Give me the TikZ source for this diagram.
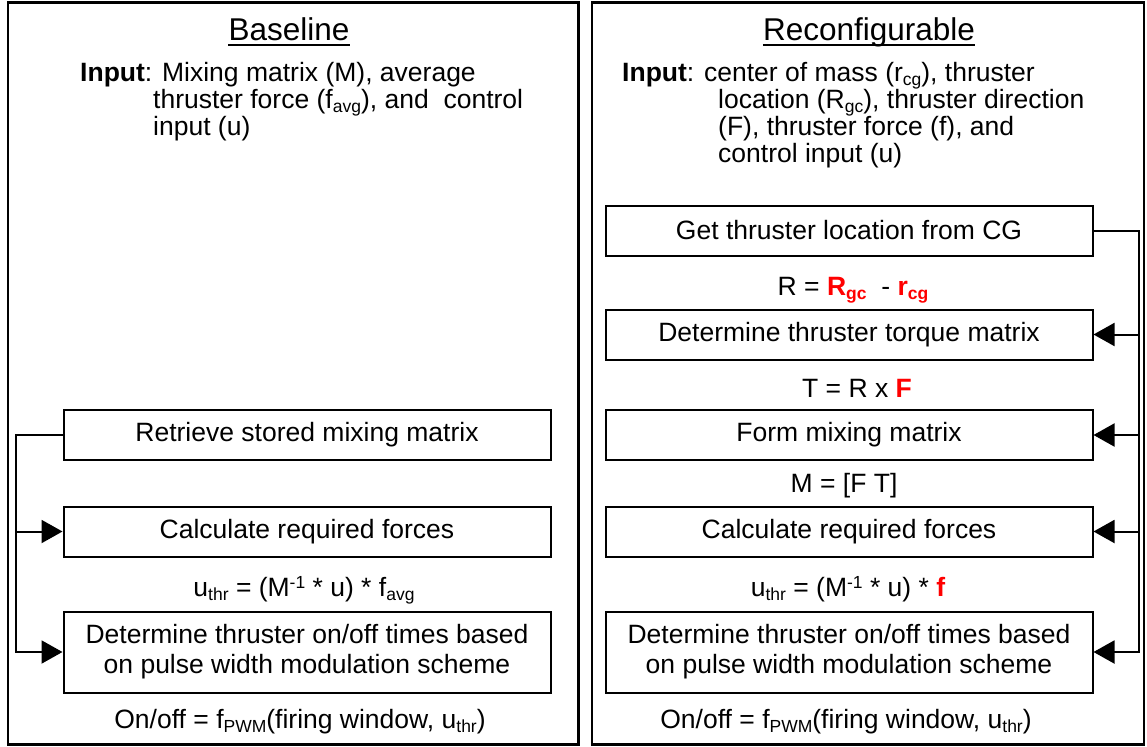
\documentclass[tikz,border=0pt]{standalone}
\usepackage{fontspec}
\setmainfont{Liberation Sans}
\usetikzlibrary{arrows.meta}
% small lowered / raised text for indices and exponents
\newcommand{\lo}[1]{\raisebox{-4pt}{\fontsize{17.5}{18}\selectfont #1}}
\newcommand{\hi}[1]{\raisebox{8pt}{\fontsize{17.5}{18}\selectfont #1}}
\begin{document}
\begin{tikzpicture}[x=1pt,y=-1pt,
  panel/.style={draw, line width=2.5pt},
  stepbox/.style={draw, line width=2pt, minimum width=487pt, minimum height=50pt,
    align=center, inner sep=0pt, font=\fontsize{26.5}{30}\selectfont},
  txt/.style={inner sep=0pt, font=\fontsize{26.5}{30}\selectfont},
  ttl/.style={inner sep=0pt, font=\fontsize{31.5}{36}\selectfont},
  uline/.style={line width=2pt},
  conn/.style={line width=2pt},
  tip/.style={-{Triangle[length=21pt 0 0,width=23pt 0 0]}}
]
\useasboundingbox (0,0) rectangle (1147,746);

% two frames
\draw[panel] (8,2.5) rectangle (578.5,744.5);
\draw[panel] (592,2.5) rectangle (1144,744.5);

% titles, underlined
\node[ttl, anchor=base] (ltitle) at (289,41) {Baseline};
\node[ttl, anchor=base] (rtitle) at (869,41) {Reconfigurable};
\draw[uline] ([yshift=-4pt]ltitle.base west) -- ([yshift=-4pt]ltitle.base east);
\draw[uline] ([yshift=-4pt]rtitle.base west) -- ([yshift=-4pt]rtitle.base east);

% inputs, left
\node[txt, anchor=base west] (lin1) at (80,81.5) {\textbf{Input}: Mixing matrix (M), average};
\node[txt, anchor=base west] (lin2) at (153,108.5) {thruster force (f\lo{avg}), and~ control};
\node[txt, anchor=base west] (lin3) at (153,135.5) {input (u)};

% inputs, right
\node[txt, anchor=base west] (rin1) at (622,81.5) {\textbf{Input}: center of mass (r\lo{cg}), thruster};
\node[txt, anchor=base west] (rin2) at (718,108.5) {location (R\lo{gc}), thruster direction};
\node[txt, anchor=base west] (rin3) at (718,135.5) {(F), thruster force (f), and};
\node[txt, anchor=base west] (rin4) at (718,162.5) {control input (u)};

% baseline steps
\node[stepbox] (lret) at (307,435) {Retrieve stored mixing matrix};
\node[stepbox] (lcalc) at (307,531.5) {Calculate required forces};
\node[stepbox, minimum height=81pt] (ldet) at (307,652)
  {Determine thruster on/off times based\\on pulse width modulation scheme};
\node[txt, anchor=base] (leq1) at (304,596.5) {u\lo{thr} = (M\hi{-1} * u) * f\lo{avg}};
\node[txt, anchor=base] (leq2) at (300,728.5) {On/off = f\lo{PWM}(firing window, u\lo{thr})};

% reconfigurable steps
\node[stepbox] (rget) at (849,230.5) {Get thruster location from CG};
\node[stepbox] (rtrq) at (849,334.5) {Determine thruster torque matrix};
\node[stepbox] (rmix) at (849,435) {Form mixing matrix};
\node[stepbox] (rcalc) at (849,531.5) {Calculate required forces};
\node[stepbox, minimum height=81pt] (rdet) at (849,652)
  {Determine thruster on/off times based\\on pulse width modulation scheme};
\node[txt, anchor=base] (req1) at (853,295.5)
  {R = \textcolor{red}{\textbf{R}\lo{\textbf{gc}}}~ - \textcolor{red}{\textbf{r}\lo{\textbf{cg}}}};
\node[txt, anchor=base] (req2) at (857,397.5) {T = R x \textcolor{red}{\textbf{F}}};
\node[txt, anchor=base] (req3) at (844,492.5) {M = [F T]};
\node[txt, anchor=base] (req4) at (848,596.5) {u\lo{thr} = (M\hi{-1} * u) * \textcolor{red}{\textbf{f}}};
\node[txt, anchor=base] (req5) at (846,728.5) {On/off = f\lo{PWM}(firing window, u\lo{thr})};

% feed lines
\coordinate (lbus) at (16,0);
\coordinate (rbus) at (1139,0);
\draw[conn,tip] (lret.west) -- (lret.west -| lbus) |- (ldet.west);
\draw[conn,tip] (lcalc.west -| lbus) -- (lcalc.west);

\draw[conn,tip] (rget.east) -- (rget.east -| rbus) |- (rdet.east);
\draw[conn,tip] (rtrq.east -| rbus) -- (rtrq.east);
\draw[conn,tip] (rmix.east -| rbus) -- (rmix.east);
\draw[conn,tip] (rcalc.east -| rbus) -- (rcalc.east);
\end{tikzpicture}
\end{document}
